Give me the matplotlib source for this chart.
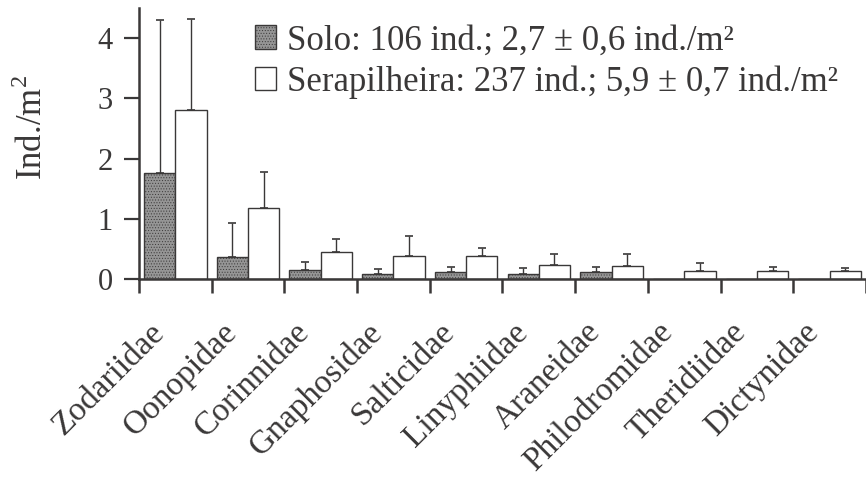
import matplotlib
matplotlib.use("Agg")
import matplotlib.pyplot as plt
import matplotlib.transforms as mtransforms
import numpy as np

families = [
    "Zodariidae", "Oonopidae", "Corinnidae", "Gnaphosidae", "Salticidae",
    "Linyphiidae", "Araneidae", "Philodromidae", "Theridiidae", "Dictynidae",
]
solo_mean = [1.76, 0.37, 0.15, 0.08, 0.11, 0.08, 0.11, 0.0, 0.0, 0.0]
solo_err = [2.54, 0.56, 0.13, 0.09, 0.09, 0.10, 0.09, 0.0, 0.0, 0.0]
serap_mean = [2.80, 1.18, 0.45, 0.38, 0.38, 0.24, 0.22, 0.13, 0.13, 0.14]
serap_err = [1.52, 0.60, 0.21, 0.33, 0.13, 0.17, 0.19, 0.14, 0.07, 0.04]
y_ticks = [0, 1, 2, 3, 4]
legend_labels = [
    "Solo: 106 ind.; 2,7 ± 0,6 ind./m²",
    "Serapilheira: 237 ind.; 5,9 ± 0,7 ind./m²",
]

INK = "#3a3838"

plt.rcParams["font.family"] = ["Liberation Serif", "DejaVu Serif"]
plt.rcParams["mathtext.fontset"] = "custom"
plt.rcParams["mathtext.rm"] = "Liberation Serif"
plt.rcParams["hatch.color"] = "#707070"
plt.rcParams["hatch.linewidth"] = 0.4

fig = plt.figure(figsize=(8.66, 4.84), dpi=100, facecolor="white")
ax = fig.add_axes([0.1605, 0.4236, 0.8395, 0.5599])

x = np.arange(len(families))
width = 0.43
offset = 0.215

ax.bar(
    x - offset, solo_mean, width,
    color="#959595", edgecolor=INK, linewidth=1.0,
    hatch="......", label=legend_labels[0], zorder=2,
)
ax.bar(
    x + offset, serap_mean, width,
    color="white", edgecolor=INK, linewidth=1.0,
    label=legend_labels[1], zorder=2,
)

solo_mask = np.array(solo_err) > 0
ax.errorbar(
    (x - offset)[solo_mask], np.array(solo_mean)[solo_mask],
    yerr=[np.zeros(solo_mask.sum()), np.array(solo_err)[solo_mask]],
    fmt="none", ecolor=INK, elinewidth=1.0, capsize=3, capthick=1.2,
    zorder=1,
)
ax.errorbar(
    x + offset, serap_mean,
    yerr=[np.zeros(len(serap_err)), serap_err],
    fmt="none", ecolor=INK, elinewidth=1.0, capsize=3, capthick=1.2,
    zorder=1,
)

ax.set_xlim(-0.5, len(families) - 0.5)
ax.set_ylim(0, 4.5)

for side in ["top", "right"]:
    ax.spines[side].set_visible(False)
for side in ["left", "bottom"]:
    ax.spines[side].set_color(INK)
    ax.spines[side].set_linewidth(1.8)

ax.set_yticks(y_ticks)
ax.set_yticklabels([str(v) for v in y_ticks], fontsize=22, color=INK)
ax.tick_params(axis="y", direction="out", length=11, width=1.6,
               color=INK, pad=8)

# boundary ticks (major) and category labels (minor)
ax.set_xticks(np.arange(len(families) + 1) - 0.5)
ax.set_xticklabels([])
ax.tick_params(axis="x", which="major", direction="out", length=10,
               width=1.8, color=INK)
ax.set_xticks(x, minor=True)
ax.set_xticklabels(families, minor=True, rotation=45, ha="right",
                   va="center", rotation_mode="anchor",
                   fontsize=24, color=INK)
ax.tick_params(axis="x", which="minor", length=0, pad=35)
shift = mtransforms.ScaledTranslation(-16 / 100, 0, fig.dpi_scale_trans)
for lab in ax.get_xticklabels(minor=True):
    lab.set_transform(lab.get_transform() + shift)

ax.set_ylabel("Ind./m$^2$", fontsize=25, color=INK)
ax.yaxis.set_label_coords(-0.122, 0.56)

ax.legend(
    loc="upper left", bbox_to_anchor=(0.14, 0.99),
    frameon=False, fontsize=25, handlelength=0.62, handleheight=0.68,
    handletextpad=0.3, labelspacing=0.22, borderaxespad=0,
    labelcolor=INK,
)

fig.savefig("out.png", dpi=100, facecolor="white")
